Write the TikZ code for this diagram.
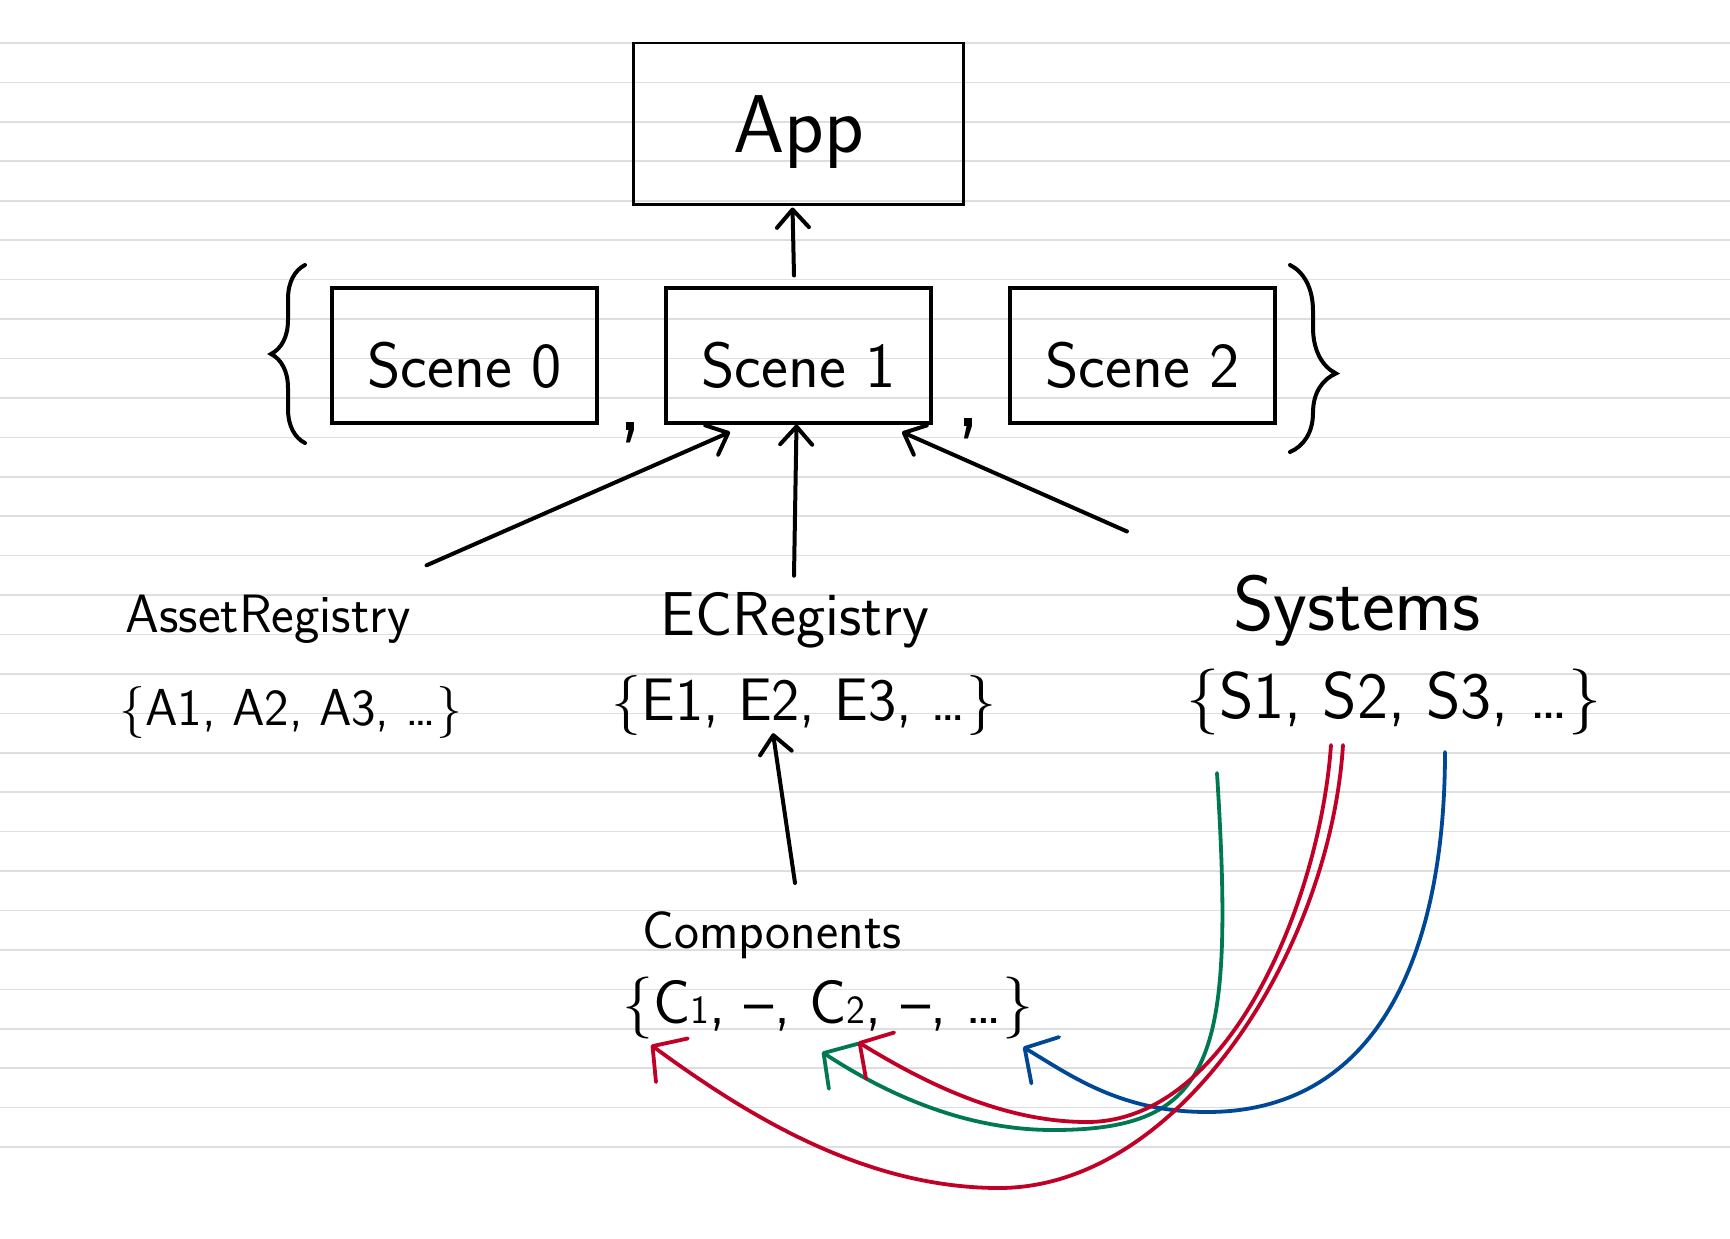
\documentclass[tikz,border=0pt]{standalone}
\usepackage{fontspec}
\usepackage{tikz}
\usetikzlibrary{positioning, calc, arrows.meta, decorations.pathreplacing}

\definecolor{penred}{RGB}{192,0,38}
\definecolor{pengreen}{RGB}{0,120,82}
\definecolor{penblue}{RGB}{0,72,150}
\definecolor{ruling}{RGB}{222,222,222}

\newcommand{\lowdigit}[1]{{\fontsize{40}{40}\selectfont #1}}

\begin{document}
\begin{tikzpicture}[x=1pt, y=-1pt,
        box/.style={draw, line width=4pt, minimum width=265pt, minimum height=135pt,
            text height=64pt, text depth=0pt, font=\fontsize{64}{70}\sffamily},
        lbl/.style={anchor=base, inner sep=0pt, font=\fontsize{#1}{#1}\sffamily},
        conn/.style={-{Straight Barb[length=18pt, width=32pt, round]}, line width=4pt, line cap=round},
        link/.style={-{Straight Barb[length=24pt, width=54pt, round]}, line width=3.8pt, line cap=round, draw=#1},
        ruled/.style={ruling, line width=1.6pt},
        curly/.style={decorate, line width=4pt, line cap=round}]
    \useasboundingbox[fill=white] (0,0) rectangle (1730,1239);
    % lined paper
    \foreach \k in {0,...,28}
        \draw[ruled] (0,{43+39.43*\k}) -- (1730,{43+39.43*\k});

    \node[box] (scene1) at (798.5,355) {Scene 1};
    \node[box, left=65pt of scene1] (scene0) {Scene 0};
    \node[box, right=75pt of scene1] (scene2) {Scene 2};
    \node[box, line width=2.8pt, minimum width=330pt, minimum height=161pt,
        text height=57pt, font=\fontsize{82}{90}\sffamily, above=80pt of scene1] (app) {App};

    \draw[curly, decoration={brace, amplitude=34pt}] (305,443) -- (305,265);
    \draw[curly, decoration={brace, amplitude=46pt, aspect=0.58}] (1290,265) -- (1290,452);
    \node[lbl=100] (comma0) at (631,430) {,};
    \node[lbl=100] (comma1) at (969,426) {,};

    \node[lbl=54] (asset) at (268,632) {AssetRegistry};
    \node[lbl=52] (assetset) at (291,725) {\{A1, A2, A3, \ldots\}};
    \node[lbl=62] (ec) at (795,635) {ECRegistry};
    \node[lbl=60] (ecset) at (804,720) {\{E1, E2, E3, \ldots\}};
    \node[lbl=78] (sys) at (1357,630) {Systems};
    \node[lbl=66] (sysset) at (1394,718) {\{S1, S2, S3, \ldots\}};
    \node[lbl=53] (comp) at (772,948) {Components};
    \node[lbl=62] (compset) at (828,1023) {\{C\lowdigit{1}, \textendash, C\lowdigit{2}, \textendash, \ldots\}};

    \draw[conn] ($(scene1.north)+(-4.5,-10)$) -- ($(app.south)+(-6,2)$);
    \draw[conn] ($(asset.north east)+(16,-29)$) -- ($(scene1.south)+(-68.5,7.5)$);
    \draw[conn] ($(ec.north)+(-1,-16)$) -- ($(scene1.south)+(-2,0)$);
    \draw[conn] ($(sys.north west)+(-106,-43)$) -- ($(scene1.south)+(103.5,7.5)$);
    \draw[conn] ($(comp.north)+(23,-28)$) -- ($(ecset.south)+(-31,-2)$);

    \coordinate (s1) at (1217,773);
    \coordinate (s2a) at (1331,745);
    \coordinate (s2b) at (1343,745);
    \coordinate (s3) at (1445,752);
    \coordinate (tc1) at (651,1045);
    \coordinate (tc2a) at (822,1052);
    \coordinate (tc2b) at (858,1042);
    \coordinate (tdots) at (1023,1047);

    \draw[link=pengreen] (s1) .. controls (1235,1060) and (1215,1130) .. (1053,1130)
        .. controls (960,1130) and (880,1090) .. (tc2a);
    \draw[link=penblue] (s3) .. controls (1445,950) and (1380,1112) .. (1207,1112)
        .. controls (1120,1112) and (1070,1075) .. (tdots);
    \draw[link=penred] (s2a) .. controls (1320,900) and (1230,1122) .. (1087,1122)
        .. controls (1000,1122) and (920,1080) .. (tc2b);
    \draw[link=penred] (s2b) .. controls (1330,950) and (1180,1188) .. (999,1188)
        .. controls (860,1188) and (740,1110) .. (tc1);
\end{tikzpicture}
\end{document}
